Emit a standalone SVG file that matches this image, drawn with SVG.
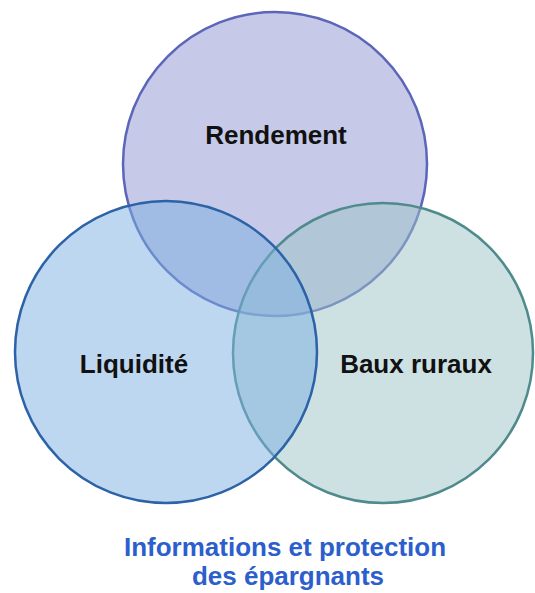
<svg xmlns="http://www.w3.org/2000/svg" width="535" height="593" viewBox="0 0 535 593">
<style>
.c{stroke-width:2.5}
.lbl{font-family:"Liberation Sans",Arial,sans-serif;font-weight:bold;font-size:26px;fill:#111;text-anchor:middle}
.cap{font-family:"Liberation Sans",Arial,sans-serif;font-weight:bold;font-size:26px;fill:#2c5fcc;text-anchor:middle}
</style>
<rect width="535" height="593" fill="#fff"/>
<g id="rendement">
<circle class="c" cx="275" cy="164" r="152" fill="#c6c9e7" stroke="#5c66b9"/>
<text class="lbl" x="276" y="144">Rendement</text>
</g>
<g id="baux">
<circle class="c" cx="383" cy="353" r="150" fill="rgb(155,195,199)" fill-opacity="0.5" stroke="#4f8a8c"/>
</g>
<g id="liquidite">
<circle class="c" cx="166" cy="352" r="151" fill="rgb(124,175,225)" fill-opacity="0.5" stroke="#2c62a6"/>
</g>
<g id="labels">
<text class="lbl" x="134" y="373">Liquidité</text>
<text class="lbl" x="416" y="373">Baux ruraux</text>
</g>
<g id="connectors"></g>
<g id="caption">
<text class="cap" x="285" y="556">Informations et protection</text>
<text class="cap" x="288" y="585">des épargnants</text>
</g>
</svg>
